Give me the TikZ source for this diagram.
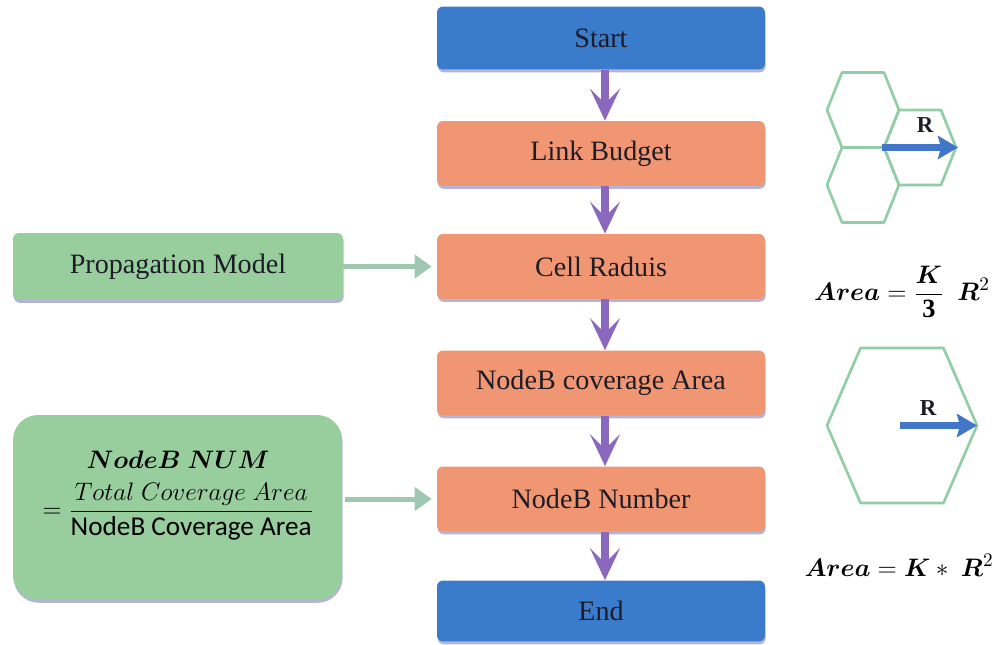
\documentclass[tikz,border=0pt]{standalone}
\usepackage{amsmath}
\usepackage{fontspec}
\setmainfont{Liberation Serif}
\newfontfamily\calfont{Carlito}
\usetikzlibrary{arrows.meta,shadows}
\definecolor{boxblue}{RGB}{58,123,204}
\definecolor{boxorange}{RGB}{240,150,115}
\definecolor{boxgreen}{RGB}{152,206,158}
\definecolor{arrpurple}{RGB}{138,104,190}
\definecolor{arrgreen}{RGB}{158,200,178}
\definecolor{hexgreen}{RGB}{145,205,165}
\definecolor{arrblue}{RGB}{66,118,200}
\definecolor{txtdark}{RGB}{30,28,38}
\definecolor{shadowc}{RGB}{120,120,175}
\tikzset{
 flowbox/.style={draw=none, rounded corners=0.12cm, minimum width=6.56cm, minimum height=1.3cm,
   text=txtdark, font=\fontsize{16}{19}\selectfont,
   drop shadow={shadow xshift=0.4pt, shadow yshift=-1.6pt, fill=shadowc, opacity=0.55}},
 termbox/.style={flowbox, fill=boxblue},
 procbox/.style={flowbox, fill=boxorange},
 inbox/.style={flowbox, fill=boxgreen},
 flowarrow/.style={draw=arrpurple, line width=0.15cm, -{Stealth[length=0.64cm,width=0.6cm,inset=0.3cm]}},
 inarrow/.style={draw=arrgreen, line width=0.1cm, -{Triangle[length=0.34cm,width=0.46cm]}},
 hexline/.style={draw=hexgreen, line width=1.5pt, line join=round},
 radarrow/.style={draw=arrblue, line width=0.13cm, -{Stealth[length=0.4cm,width=0.46cm,inset=0.06cm]}},
 rlabel/.style={font=\bfseries\fontsize{13}{15}\selectfont, text=txtdark, inner sep=0pt},
 formula/.style={font=\fontsize{15}{18}\selectfont, text=black, inner sep=0pt},
}
\newcommand\hexcell[5]{\draw[hexline] ({#1-#3},#2) -- ({#1-#4},{#2-#5}) -- ({#1+#4},{#2-#5}) -- ({#1+#3},#2) -- ({#1+#4},{#2+#5}) -- ({#1-#4},{#2+#5}) -- cycle;}
\begin{document}
\begin{tikzpicture}[x=0.02cm,y=-0.02cm]
\useasboundingbox (0,0) rectangle (994,645);
% main flow
\node[termbox, minimum height=1.26cm] (start) at (601,38) {Start};
\node[procbox] (link) at (601,153.5) {Link Budget};
\node[procbox] (cell) at (601,266.5) {Cell Raduis};
\node[procbox] (cov) at (601,383) {NodeB coverage Area};
\node[procbox] (num) at (601,499) {NodeB Number};
\node[termbox, minimum height=1.22cm] (end) at (601,611) {End};
\foreach \a/\b in {start/link,link/cell,cell/cov,cov/num,num/end}
  \draw[flowarrow] ([xshift=0.08cm]\a.south) -- ([xshift=0.08cm]\b.north);
% inputs
\node[inbox, minimum width=6.6cm, minimum height=1.34cm] (prop) at (178,266.5) {Propagation Model};
\node[inbox, minimum width=6.58cm, minimum height=3.7cm, rounded corners=0.5cm] (nb) at (177.5,507.5) {};
\node[formula, font=\fontsize{15.5}{18}\selectfont] (nbt) at (178,493)
  {$\begin{array}{c}\boldsymbol{NodeB\ NUM}\\[3pt] =\dfrac{Total\ Coverage\ Area}{\text{\calfont NodeB Coverage Area}}\end{array}$};
\draw[inarrow, shorten >=0.1cm] (prop.east) -- (cell.west);
\draw[inarrow, shorten <=0.06cm, shorten >=0.1cm] (num.west -| nb.east) -- (num.west);
% hexagons
\hexcell{863}{110}{36}{21}{37.5}
\hexcell{863}{185}{36}{21}{37.5}
\hexcell{920}{147.5}{36}{21}{37.5}
\hexcell{902}{425.5}{75}{41.5}{77.5}
\coordinate (r1a) at (882,147.5);
\coordinate (r1b) at (958,147.5);
\draw[radarrow] (r1a) -- (r1b);
\node[rlabel] (r1) at (925,125) {R};
\coordinate (r2a) at (900,425.5);
\coordinate (r2b) at (977,425.5);
\draw[radarrow] (r2a) -- (r2b);
\node[rlabel] (r2) at (928,408) {R};
% formulas
\node[formula] (fa) at (902,292) {$\boldsymbol{Area}=\dfrac{\boldsymbol{K}}{\mathbf{3}}\ \ \boldsymbol{R}^{2}$};
\node[formula] (fb) at (899,565) {$\boldsymbol{Area}=\boldsymbol{K}\ast\ \boldsymbol{R}^{2}$};
\end{tikzpicture}
\end{document}
